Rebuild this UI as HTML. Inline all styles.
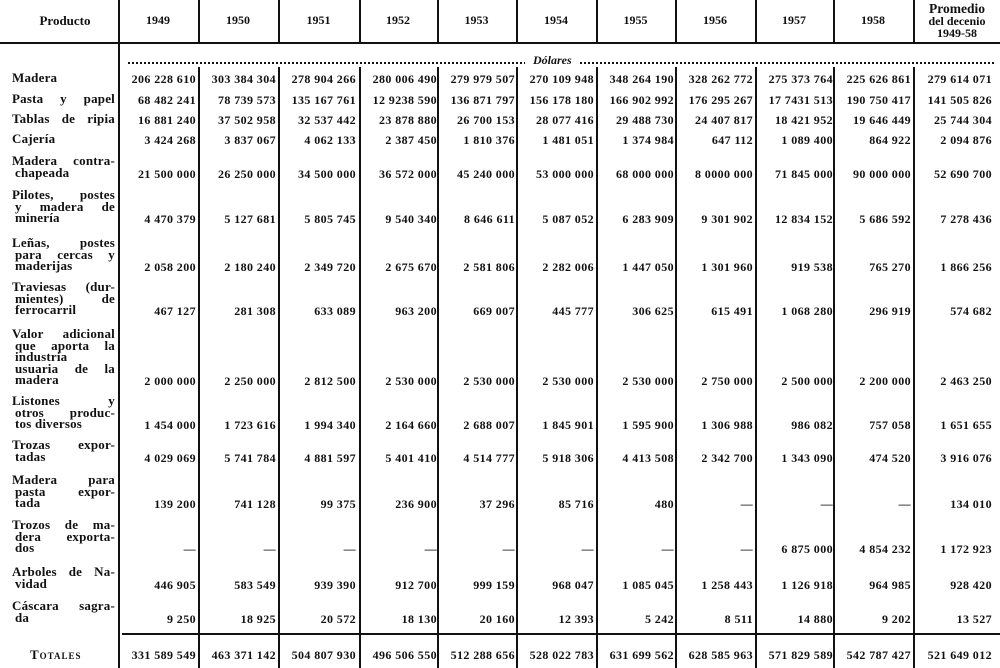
<!DOCTYPE html>
<html><head><meta charset="utf-8"><style>
body{margin:0;background:#fff;}
#p{position:relative;width:1000px;height:668px;overflow:hidden;background:#fff;color:#111;font-family:"Liberation Serif",serif;font-weight:bold;font-size:12px;}
.v{position:absolute;width:1.5px;background:#111;}
.h{position:absolute;height:1.5px;background:#111;}
.t{position:absolute;white-space:nowrap;}
.lab{position:absolute;left:12px;width:103px;line-height:11.5px;font-size:13px;text-align:justify;text-align-last:justify;letter-spacing:0.2px;}
.lab div{padding-left:3px;}
.lab div:first-child{padding-left:0;}
.lab div.nl{text-align-last:left;}
.r{position:absolute;height:14px;width:1000px;left:0;font-size:12px;}
.r span{position:absolute;top:0;text-align:right;letter-spacing:0.4px;white-space:nowrap;}
.r span:nth-child(1){right:804px}
.r span:nth-child(2){right:724px}
.r span:nth-child(3){right:644px}
.r span:nth-child(4){right:563px}
.r span:nth-child(5){right:485px}
.r span:nth-child(6){right:406px}
.r span:nth-child(7){right:326px}
.r span:nth-child(8){right:247px}
.r span:nth-child(9){right:167px}
.r span:nth-child(10){right:89px}
.r span:nth-child(11){right:8px}
.hd{position:absolute;top:13px;font-size:12px;text-align:center;}
</style></head><body><div id="p">
<div class="v" style="left:118px;top:0;height:668px"></div>
<div class="v" style="left:198px;top:0;height:668px"></div>
<div class="v" style="left:278px;top:0;height:668px"></div>
<div class="v" style="left:359px;top:0;height:668px"></div>
<div class="v" style="left:437px;top:0;height:668px"></div>
<div class="v" style="left:516px;top:0;height:668px"></div>
<div class="v" style="left:596px;top:0;height:668px"></div>
<div class="v" style="left:675px;top:0;height:668px"></div>
<div class="v" style="left:755px;top:0;height:668px"></div>
<div class="v" style="left:833px;top:0;height:668px"></div>
<div class="v" style="left:913px;top:0;height:668px"></div>
<div class="h" style="left:0;top:42px;width:1000px"></div>
<div style="position:absolute;left:120px;top:44px;width:880px;height:23px;background:#fff"></div>
<div class="h" style="left:122px;top:633px;width:878px"></div>

<div class="hd" style="left:22px;width:86px;font-size:13px">Producto</div>
<div class="hd" style="left:118px;width:80px">1949</div>
<div class="hd" style="left:198px;width:80px">1950</div>
<div class="hd" style="left:278px;width:81px">1951</div>
<div class="hd" style="left:359px;width:78px">1952</div>
<div class="hd" style="left:437px;width:79px">1953</div>
<div class="hd" style="left:516px;width:80px">1954</div>
<div class="hd" style="left:596px;width:79px">1955</div>
<div class="hd" style="left:675px;width:80px">1956</div>
<div class="hd" style="left:755px;width:78px">1957</div>
<div class="hd" style="left:833px;width:80px">1958</div>
<div class="t" style="left:914px;top:3px;width:86px;text-align:center;line-height:12px;font-size:12px"><span style="font-size:13.5px">Promedio</span><br>del decenio<br>1949-58</div>

<div class="t" style="left:128px;top:52px;width:866px;height:10px;border-bottom:2px dotted #111"></div>
<div class="t" style="left:525px;top:53px;font-style:italic;background:#fff;padding:0 8px">Dólares</div>

<div class="lab" style="top:72px"><div class="nl">Madera</div></div>
<div class="r" style="top:72px"><span>206 228 610</span><span>303 384 304</span><span>278 904 266</span><span>280 006 490</span><span>279 979 507</span><span>270 109 948</span><span>348 264 190</span><span>328 262 772</span><span>275 373 764</span><span>225 626 861</span><span>279 614 071</span></div>

<div class="lab" style="top:93px"><div>Pasta y papel</div></div>
<div class="r" style="top:93px"><span>68 482 241</span><span>78 739 573</span><span>135 167 761</span><span>12 9238 590</span><span>136 871 797</span><span>156 178 180</span><span>166 902 992</span><span>176 295 267</span><span>17 7431 513</span><span>190 750 417</span><span>141 505 826</span></div>

<div class="lab" style="top:113px"><div>Tablas de ripia</div></div>
<div class="r" style="top:113px"><span>16 881 240</span><span>37 502 958</span><span>32 537 442</span><span>23 878 880</span><span>26 700 153</span><span>28 077 416</span><span>29 488 730</span><span>24 407 817</span><span>18 421 952</span><span>19 646 449</span><span>25 744 304</span></div>

<div class="lab" style="top:133px"><div class="nl">Cajería</div></div>
<div class="r" style="top:133px"><span>3 424 268</span><span>3 837 067</span><span>4 062 133</span><span>2 387 450</span><span>1 810 376</span><span>1 481 051</span><span>1 374 984</span><span>647 112</span><span>1 089 400</span><span>864 922</span><span>2 094 876</span></div>

<div class="lab" style="top:155px"><div>Madera contra-</div><div class="nl">chapeada</div></div>
<div class="r" style="top:167px"><span>21 500 000</span><span>26 250 000</span><span>34 500 000</span><span>36 572 000</span><span>45 240 000</span><span>53 000 000</span><span>68 000 000</span><span>8 0000 000</span><span>71 845 000</span><span>90 000 000</span><span>52 690 700</span></div>

<div class="lab" style="top:189px"><div>Pilotes, postes</div><div>y madera de</div><div class="nl">minería</div></div>
<div class="r" style="top:212px"><span>4 470 379</span><span>5 127 681</span><span>5 805 745</span><span>9 540 340</span><span>8 646 611</span><span>5 087 052</span><span>6 283 909</span><span>9 301 902</span><span>12 834 152</span><span>5 686 592</span><span>7 278 436</span></div>

<div class="lab" style="top:237px"><div>Leñas, postes</div><div>para cercas y</div><div class="nl">maderijas</div></div>
<div class="r" style="top:260px"><span>2 058 200</span><span>2 180 240</span><span>2 349 720</span><span>2 675 670</span><span>2 581 806</span><span>2 282 006</span><span>1 447 050</span><span>1 301 960</span><span>919 538</span><span>765 270</span><span>1 866 256</span></div>

<div class="lab" style="top:281px"><div>Traviesas (dur-</div><div>mientes) de</div><div class="nl">ferrocarril</div></div>
<div class="r" style="top:304px"><span>467 127</span><span>281 308</span><span>633 089</span><span>963 200</span><span>669 007</span><span>445 777</span><span>306 625</span><span>615 491</span><span>1 068 280</span><span>296 919</span><span>574 682</span></div>

<div class="lab" style="top:328px"><div>Valor adicional</div><div>que aporta la</div><div>industria</div><div>usuaria de la</div><div class="nl">madera</div></div>
<div class="r" style="top:374px"><span>2 000 000</span><span>2 250 000</span><span>2 812 500</span><span>2 530 000</span><span>2 530 000</span><span>2 530 000</span><span>2 530 000</span><span>2 750 000</span><span>2 500 000</span><span>2 200 000</span><span>2 463 250</span></div>

<div class="lab" style="top:395px"><div>Listones y</div><div>otros produc-</div><div class="nl">tos diversos</div></div>
<div class="r" style="top:418px"><span>1 454 000</span><span>1 723 616</span><span>1 994 340</span><span>2 164 660</span><span>2 688 007</span><span>1 845 901</span><span>1 595 900</span><span>1 306 988</span><span>986 082</span><span>757 058</span><span>1 651 655</span></div>

<div class="lab" style="top:439px"><div>Trozas expor-</div><div class="nl">tadas</div></div>
<div class="r" style="top:451px"><span>4 029 069</span><span>5 741 784</span><span>4 881 597</span><span>5 401 410</span><span>4 514 777</span><span>5 918 306</span><span>4 413 508</span><span>2 342 700</span><span>1 343 090</span><span>474 520</span><span>3 916 076</span></div>

<div class="lab" style="top:474px"><div>Madera para</div><div>pasta expor-</div><div class="nl">tada</div></div>
<div class="r" style="top:497px"><span>139 200</span><span>741 128</span><span>99 375</span><span>236 900</span><span>37 296</span><span>85 716</span><span>480</span><span>—</span><span>—</span><span>—</span><span>134 010</span></div>

<div class="lab" style="top:519px"><div>Trozos de ma-</div><div>dera exporta-</div><div class="nl">dos</div></div>
<div class="r" style="top:542px"><span>—</span><span>—</span><span>—</span><span>—</span><span>—</span><span>—</span><span>—</span><span>—</span><span>6 875 000</span><span>4 854 232</span><span>1 172 923</span></div>

<div class="lab" style="top:566px"><div>Arboles de Na-</div><div class="nl">vidad</div></div>
<div class="r" style="top:578px"><span>446 905</span><span>583 549</span><span>939 390</span><span>912 700</span><span>999 159</span><span>968 047</span><span>1 085 045</span><span>1 258 443</span><span>1 126 918</span><span>964 985</span><span>928 420</span></div>

<div class="lab" style="top:600px"><div>Cáscara sagra-</div><div class="nl">da</div></div>
<div class="r" style="top:612px"><span>9 250</span><span>18 925</span><span>20 572</span><span>18 130</span><span>20 160</span><span>12 393</span><span>5 242</span><span>8 511</span><span>14 880</span><span>9 202</span><span>13 527</span></div>

<div class="t" style="left:30px;top:647px;font-variant:small-caps;letter-spacing:1px;font-size:13px">Totales</div>
<div class="r" style="top:648px"><span>331 589 549</span><span>463 371 142</span><span>504 807 930</span><span>496 506 550</span><span>512 288 656</span><span>528 022 783</span><span>631 699 562</span><span>628 585 963</span><span>571 829 589</span><span>542 787 427</span><span>521 649 012</span></div>
</div></body></html>
